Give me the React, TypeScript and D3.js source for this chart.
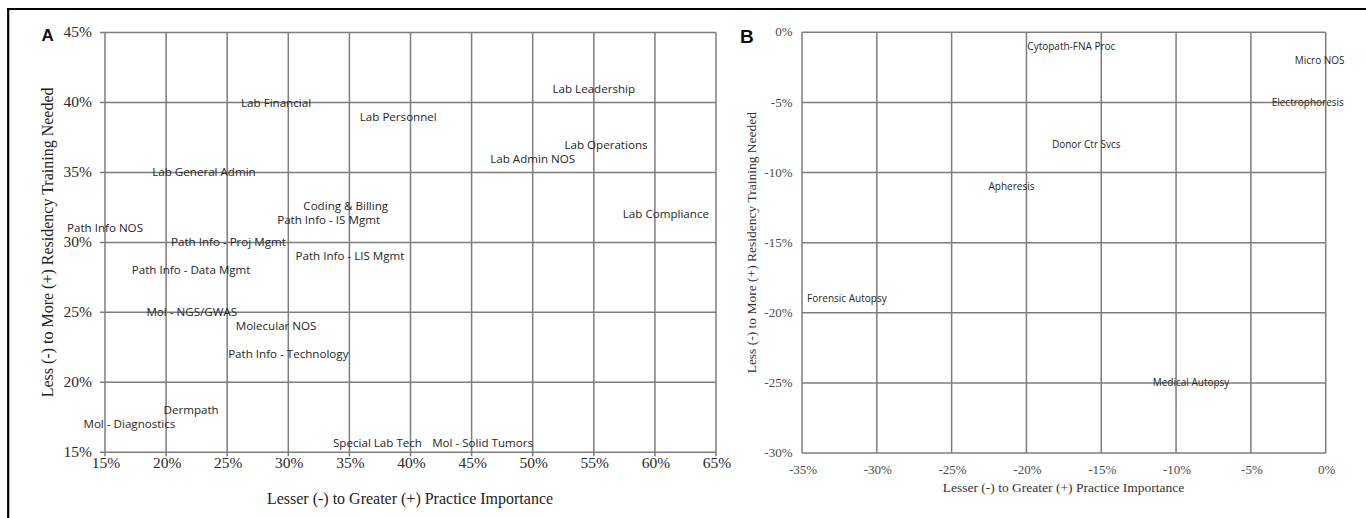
import React from "react";
import * as d3 from "d3";

// Panel A data (practice importance vs residency training needed, %)
const labelsA = [
  "Lab Leadership", "Lab Financial", "Lab Personnel", "Lab Operations", "Lab Admin NOS",
  "Lab General Admin", "Coding & Billing", "Path Info - IS Mgmt", "Lab Compliance", "Path Info NOS",
  "Path Info - Proj Mgmt", "Path Info - LIS Mgmt", "Path Info - Data Mgmt", "Mol - NGS/GWAS",
  "Molecular NOS", "Path Info - Technology", "Dermpath", "Mol - Diagnostics", "Special Lab Tech",
  "Mol - Solid Tumors",
];
const xA = [55, 29, 39, 56, 50, 23.1, 34.7, 33.3, 60.9, 15, 25.1, 35.05, 22.05, 22.1, 29, 30, 22.05, 17, 37.3, 45.9];
const yA = [41, 40, 39, 37, 36, 35, 32.6, 31.6, 32, 31, 30, 29, 28, 25, 24, 22, 18, 17, 15.7, 15.7];

// Panel B data
const labelsB = [
  "Cytopath-FNA Proc", "Micro NOS", "Electrophoresis", "Donor Ctr Svcs", "Apheresis",
  "Forensic Autopsy", "Medical Autopsy",
];
const xB = [-17, -0.4, -1.2, -16, -21, -32, -9];
const yB = [-1, -2, -5, -8, -11, -19, -25];

const ticksAx = [15, 20, 25, 30, 35, 40, 45, 50, 55, 60, 65];
const ticksAy = [15, 20, 25, 30, 35, 40, 45];
const ticksBx = [-35, -30, -25, -20, -15, -10, -5, 0];
const ticksBy = [-30, -25, -20, -15, -10, -5, 0];

const xTitle = "Lesser (-) to Greater (+) Practice Importance";
const yTitle = "Less (-) to More (+) Residency Training Needed";

const GRID = "#7d7d7d";
const SERIF = "'Liberation Serif', 'Times New Roman', serif";
const SANS = "'Open Sans', 'Noto Sans', sans-serif";

export default function App() {
  const axA = d3.scaleLinear().domain([15, 65]).range([105, 716]);
  const ayA = d3.scaleLinear().domain([15, 45]).range([452.3, 32.5]);
  const bxB = d3.scaleLinear().domain([-35, 0]).range([802, 1325.7]);
  const byB = d3.scaleLinear().domain([-30, 0]).range([453, 32.3]);

  const [ax0, ax1] = axA.range();
  const [ay0, ay1] = ayA.range();
  const [bx0, bx1] = bxB.range();
  const [by0, by1] = byB.range();

  return (
    <svg width={1366} height={518} style={{ position: "absolute", left: 0, top: 0, background: "#fff" }}>
      <rect x={0} y={0} width={1366} height={518} fill="#fff" />
      {/* frame */}
      <line x1={7} x2={1366} y1={9} y2={9} stroke="#000" strokeWidth={2.2} />
      <line x1={8.2} x2={8.2} y1={8} y2={518} stroke="#000" strokeWidth={2.2} />

      {/* Panel A */}
      <g>
        {ticksAx.map((t) => (
          <line key={"ax" + t} x1={axA(t)} x2={axA(t)} y1={ay1} y2={ay0 + 4} stroke={GRID} strokeWidth={1.5} />
        ))}
        {ticksAy.map((t) => (
          <line key={"ay" + t} x1={ax0 - 5} x2={ax1} y1={ayA(t)} y2={ayA(t)} stroke={GRID} strokeWidth={1.5} />
        ))}
        {ticksAy.map((t) => (
          <text key={"tay" + t} x={92} y={ayA(t)} dy="0.32em" textAnchor="end" fontFamily={SERIF} fontSize={15.5} fill="#2a2a2a">
            {t + "%"}
          </text>
        ))}
        {ticksAx.map((t) => (
          <text key={"tax" + t} x={axA(t) + 1} y={463.5} dy="0.32em" textAnchor="middle" fontFamily={SERIF} fontSize={15.5} fill="#2a2a2a">
            {t + "%"}
          </text>
        ))}
        <text x={410} y={498.5} dy="0.32em" textAnchor="middle" fontFamily={SERIF} fontSize={16} fill="#222">
          {xTitle}
        </text>
        <text
          transform={`translate(47.5,${(ay0 + ay1) / 2}) rotate(-90)`}
          dy="0.32em"
          textAnchor="middle"
          fontFamily={SERIF}
          fontSize={16}
          fill="#222"
        >
          {yTitle}
        </text>
        {labelsA.map((l, i) => (
          <text key={"la" + i} x={axA(xA[i])} y={ayA(yA[i])} dy="0.35em" textAnchor="middle" fontFamily={SANS} fontSize={11.6} fill="#262626">
            {l}
          </text>
        ))}
        <text x={41.5} y={41} fontFamily="'Liberation Sans', Arial, sans-serif" fontWeight="bold" fontSize={17} fill="#111">
          A
        </text>
      </g>

      {/* Panel B */}
      <g>
        {ticksBx.map((t) => (
          <line key={"bx" + t} x1={bxB(t)} x2={bxB(t)} y1={by1} y2={by0} stroke={GRID} strokeWidth={1.5} />
        ))}
        {ticksBy.map((t) => (
          <line key={"by" + t} x1={bx0} x2={bx1} y1={byB(t)} y2={byB(t)} stroke={GRID} strokeWidth={1.5} />
        ))}
        {ticksBy.map((t) => (
          <text key={"tby" + t} x={792.5} y={byB(t)} dy="0.32em" textAnchor="end" fontFamily={SERIF} fontSize={13} fill="#4a4a4a">
            {t + "%"}
          </text>
        ))}
        {ticksBx.map((t) => (
          <text key={"tbx" + t} x={bxB(t) + 1} y={469.5} dy="0.32em" textAnchor="middle" fontFamily={SERIF} fontSize={13} fill="#4a4a4a">
            {t + "%"}
          </text>
        ))}
        <text x={1063.5} y={488} dy="0.32em" textAnchor="middle" fontFamily={SERIF} fontSize={13.5} fill="#333">
          {xTitle}
        </text>
        <text
          transform={`translate(751.5,${(by0 + by1) / 2}) rotate(-90)`}
          dy="0.32em"
          textAnchor="middle"
          fontFamily={SERIF}
          fontSize={13.5}
          fill="#333"
        >
          {yTitle}
        </text>
        {labelsB.map((l, i) => (
          <text key={"lb" + i} x={bxB(xB[i])} y={byB(yB[i])} dy="0.35em" textAnchor="middle" fontFamily={SANS} fontSize={10} fill="#262626">
            {l}
          </text>
        ))}
        <text x={740} y={43} fontFamily="'Liberation Sans', Arial, sans-serif" fontWeight="bold" fontSize={19} fill="#111">
          B
        </text>
      </g>
    </svg>
  );
}
